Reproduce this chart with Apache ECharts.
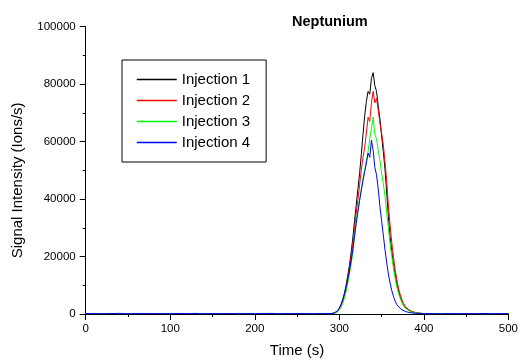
<!DOCTYPE html>
<html>
<head>
<meta charset="utf-8">
<script src="https://cdn.jsdelivr.net/npm/echarts@6/dist/echarts.min.js"></script>
<style>
html,body{margin:0;padding:0;background:#fff;}
#chart{width:521px;height:363px;}
</style>
</head>
<body>
<div id="chart"></div>
<script>
const seriesNames = ['Injection 1', 'Injection 2', 'Injection 3', 'Injection 4'];
const seriesColors = ['#000000', '#ff0000', '#00ff00', '#0000ff'];
const xTicks = [0, 100, 200, 300, 400, 500];
const yTicks = [0, 20000, 40000, 60000, 80000, 100000];

const times = [
  0,10,20,30,40,50,60,70,80,90,100,110,120,130,140,150,160,170,180,190,200,210,220,230,240,250,260,270,280,
  290,292,294,296,298,300,302,304,306,308,310,312,314,316,318,320,322,324,326,328,330,332,334,336,338,340,
  342,344,346,348,350,352,354,356,358,360,362,364,366,368,370,372,374,376,378,380,382,384,386,388,390,392,394,396,398,400,
  410,420,430,440,450,460,470,480,490,500
];

const injection1 = [
  120,180,90,150,210,130,170,100,160,140,190,110,150,200,130,170,90,160,140,180,120,150,210,130,160,100,170,140,190,
  150,200,300,600,1100,2000,3300,5000,7200,10000,13500,17000,21500,26500,32500,38000,43500,49000,55500,62500,69000,74000,77500,76500,82000,84000,
  79500,77500,72500,68000,62000,56500,50500,42500,34000,27000,22000,17500,14000,10500,8000,6000,4200,3000,2200,1600,1300,1000,800,600,450,350,300,250,200,150,
  110,150,90,170,130,100,160,120,140,110
];

const injection2 = [
  150,110,190,130,170,90,200,140,120,180,100,160,130,190,110,150,170,120,200,140,90,180,130,160,110,190,140,120,170,
  150,200,280,500,950,1700,2900,4500,6600,9200,12500,16000,20000,24500,29500,35000,40000,45000,50000,54500,58000,63000,68500,67000,73500,77500,
  73500,75000,71000,66500,63000,59000,53000,46500,38000,31000,25000,20000,15500,12000,9000,6800,5000,3700,2700,2000,1600,1200,950,700,550,400,320,250,200,150,
  140,100,160,120,180,90,150,130,110,160
];

const injection3 = [
  100,160,130,190,120,170,90,150,180,110,140,200,120,160,100,190,130,170,110,150,180,90,160,120,140,200,110,170,130,
  120,160,220,400,750,1300,2300,3700,5500,7800,10800,14000,17500,21500,27000,32500,36500,40000,43500,47000,50000,53500,56500,61000,64500,68500,
  62500,61000,57000,53500,49000,45500,41000,35500,30000,24500,20000,16000,12500,9500,7200,5400,4000,2900,2100,1500,1200,900,700,500,400,300,250,200,150,120,
  120,170,100,150,130,180,90,140,160,100
];

const injection4 = [
  170,130,110,180,140,90,160,200,120,150,110,190,140,170,100,160,130,180,90,150,120,200,140,110,170,130,160,100,180,
  150,200,300,600,1100,2000,3200,4800,6800,9200,12000,15000,18500,22500,27000,31500,35500,39500,43000,46500,49500,52500,56000,54500,60500,57000,
  51000,48500,43500,37500,32500,27500,22500,18000,14000,10800,8200,6200,4500,3300,2500,1900,1500,1150,900,700,560,450,370,300,250,200,170,150,120,100,
  130,90,160,110,150,120,170,100,140,130
];

const seriesValues = [injection1, injection2, injection3, injection4];
const FONT = 'Arial, "Liberation Sans", sans-serif';

const chart = echarts.init(document.getElementById('chart'), null, {renderer: 'canvas'});
chart.setOption({
  animation: false,
  backgroundColor: '#ffffff',
  title: {
    text: 'Neptunium',
    left: 292,
    top: 14,
    padding: 0,
    textStyle: {fontFamily: FONT, fontSize: 14.5, fontWeight: 'bold', color: '#000'}
  },
  legend: {
    data: seriesNames,
    orient: 'vertical',
    left: 122,
    top: 60,
    padding: [12, 16, 12, 14],
    itemWidth: 40,
    itemHeight: 14,
    itemGap: 6,
    borderColor: '#000',
    borderWidth: 1,
    itemStyle: {opacity: 0},
    lineStyle: {width: 1.5},
    textStyle: {fontFamily: FONT, fontSize: 15, color: '#000'}
  },
  grid: {left: 85.7, right: 7.7, top: 26.7, bottom: 45, containLabel: false},
  xAxis: {
    type: 'value',
    min: xTicks[0],
    max: xTicks[xTicks.length - 1],
    interval: 100,
    name: 'Time (s)',
    nameLocation: 'middle',
    nameGap: 29,
    nameTextStyle: {fontFamily: FONT, fontSize: 15, color: '#000'},
    axisLine: {show: true, onZero: false, lineStyle: {color: '#000', width: 1}},
    axisTick: {show: true, inside: false, length: 6, lineStyle: {color: '#000'}},
    minorTick: {show: true, splitNumber: 2, length: 3, lineStyle: {color: '#000'}},
    splitLine: {show: false},
    axisLabel: {fontFamily: FONT, fontSize: 11.5, color: '#000', margin: 9, formatter: v => String(v)}
  },
  yAxis: {
    type: 'value',
    min: yTicks[0],
    max: yTicks[yTicks.length - 1],
    interval: 20000,
    name: 'Signal Intensity (Ions/s)',
    nameLocation: 'middle',
    nameGap: 60,
    nameTextStyle: {fontFamily: FONT, fontSize: 15, color: '#000', padding: [0, 20, 0, 0]},
    axisLine: {show: true, onZero: false, lineStyle: {color: '#000', width: 1}},
    axisTick: {show: true, inside: false, length: 6, lineStyle: {color: '#000'}},
    minorTick: {show: true, splitNumber: 2, length: 3, lineStyle: {color: '#000'}},
    splitLine: {show: false},
    axisLabel: {fontFamily: FONT, fontSize: 11.5, color: '#000', margin: 10, formatter: v => String(v)}
  },
  series: seriesNames.map((name, i) => ({
    name: name,
    type: 'line',
    symbol: 'none',
    smooth: false,
    color: seriesColors[i],
    lineStyle: {color: seriesColors[i], width: 1},
    data: times.map((t, j) => [t, seriesValues[i][j]])
  }))
});
</script>
</body>
</html>
